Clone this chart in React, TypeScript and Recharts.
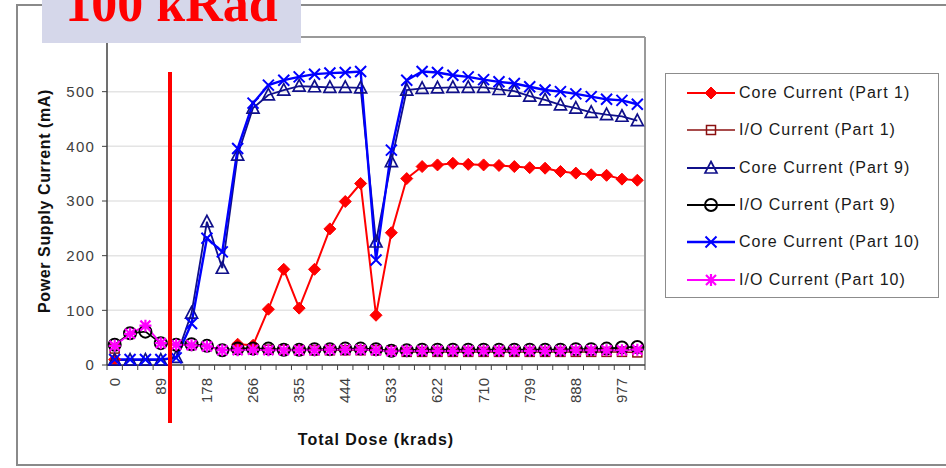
import { CartesianGrid, Label, Line, LineChart, XAxis, YAxis } from "recharts";

// dose per measurement step (krads), one category per measurement
const DOSES = [
  0, 30, 59, 89, 118, 148, 178, 207, 237, 266, 296, 326, 355, 385, 414, 444, 474, 503,
  533, 562, 592, 622, 651, 681, 710, 740, 770, 799, 829, 858, 888, 918, 947, 977, 1006,
];

const CORE_P1 = [
  10, null, null, null, null, null, null, null, 38, 36, 102, 175, 104, 175, 249, 299, 332, 91,
  242, 341, 363, 366, 369, 367, 366, 365, 363, 361, 360, 354, 351, 348, 347, 340, 338,
];
const IO_P1 = [
  30, null, null, null, null, null, null, null, 31, 30, 28, 28, 27, 27, 27, 27, 27, 27,
  26, 24, 24, 24, 24, 24, 24, 24, 24, 24, 24, 24, 24, 24, 24, 24, 23,
];
const CORE_P9 = [
  9, 9, 9, 9, 14, 95, 262, 177, 384, 470, 494, 503, 510, 509, 508, 508, 507, 225,
  372, 503, 506, 507, 508, 508, 508, 504, 501, 492, 485, 476, 470, 462, 458, 455, 447,
];
const IO_P9 = [
  37, 58, 61, 40, 37, 38, 35, 27, 30, 30, 30, 28, 28, 29, 29, 30, 30, 29,
  26, 27, 28, 28, 28, 28, 28, 28, 28, 28, 28, 28, 29, 29, 30, 32, 33,
];
const CORE_P10 = [
  10, 10, 10, 10, 13, 76, 232, 207, 396, 479, 512, 521, 527, 532, 534, 535, 537, 192,
  393, 521, 537, 535, 530, 527, 522, 518, 515, 509, 503, 500, 496, 491, 486, 484, 477,
];
const IO_P10 = [
  35, 57, 72, 40, 37, 36, 34, 27, 27, 28, 27, 27, 27, 27, 28, 28, 28, 27,
  25, 26, 26, 26, 26, 26, 26, 26, 26, 26, 26, 26, 27, 27, 27, 27, 28,
];

const Y_TICKS = [0, 100, 200, 300, 400, 500, 600];

type Kind = "diamond" | "square" | "triangle" | "circle" | "x" | "star";

const SERIES: { key: string; name: string; color: string; kind: Kind; width: number; values: (number | null)[] }[] = [
  { key: "coreP1", name: "Core Current (Part 1)", color: "#ff0000", kind: "diamond", width: 2, values: CORE_P1 },
  { key: "ioP1", name: "I/O Current (Part 1)", color: "#8b1010", kind: "square", width: 1.5, values: IO_P1 },
  { key: "coreP9", name: "Core Current (Part 9)", color: "#10108a", kind: "triangle", width: 1.8, values: CORE_P9 },
  { key: "ioP9", name: "I/O Current (Part 9)", color: "#000000", kind: "circle", width: 1.8, values: IO_P9 },
  { key: "coreP10", name: "Core Current (Part 10)", color: "#0000ff", kind: "x", width: 2.4, values: CORE_P10 },
  { key: "ioP10", name: "I/O Current (Part 10)", color: "#ff00ff", kind: "star", width: 1.8, values: IO_P10 },
];

const data = DOSES.map((d, i) => {
  const row: Record<string, number | string | null> = { dose: String(d) };
  for (const s of SERIES) row[s.key] = s.values[i];
  return row;
});

// plot box in page pixels
const PLOT_LEFT = 107;
const PLOT_RIGHT = 645;
const STEP = (PLOT_RIGHT - PLOT_LEFT) / DOSES.length;
const FONT = "'Liberation Sans', Arial, sans-serif";

function Marker({ kind, cx, cy, color }: { kind: Kind; cx: number; cy: number; color: string }) {
  switch (kind) {
    case "diamond":
      return (
        <polygon
          points={`${cx},${cy - 6} ${cx + 6},${cy} ${cx},${cy + 6} ${cx - 6},${cy}`}
          fill={color}
          stroke={color}
        />
      );
    case "square":
      return <rect x={cx - 4.5} y={cy - 4.5} width={9} height={9} fill="none" stroke={color} strokeWidth={1.5} />;
    case "triangle":
      return (
        <polygon
          points={`${cx},${cy - 6.5} ${cx + 6},${cy + 5} ${cx - 6},${cy + 5}`}
          fill="none"
          stroke={color}
          strokeWidth={1.7}
        />
      );
    case "circle":
      return <circle cx={cx} cy={cy} r={6} fill="none" stroke={color} strokeWidth={2} />;
    case "x":
      return (
        <path
          d={`M${cx - 5.5},${cy - 5.5}L${cx + 5.5},${cy + 5.5}M${cx - 5.5},${cy + 5.5}L${cx + 5.5},${cy - 5.5}`}
          stroke={color}
          strokeWidth={2}
          fill="none"
        />
      );
    default:
      return (
        <path
          d={`M${cx - 5},${cy - 5}L${cx + 5},${cy + 5}M${cx - 5},${cy + 5}L${cx + 5},${cy - 5}M${cx},${cy - 6}L${cx},${cy + 6}M${cx - 6},${cy}L${cx + 6},${cy}`}
          stroke={color}
          strokeWidth={2.2}
          fill="none"
        />
      );
  }
}

const dotFor = (kind: Kind, color: string) => (props: any) => {
  const { cx, cy, index, value } = props;
  if (cx == null || cy == null || value == null || Number.isNaN(cy)) return <g key={`e-${index}`} />;
  return (
    <g key={`d-${index}`}>
      <Marker kind={kind} cx={cx} cy={cy} color={color} />
    </g>
  );
};

function DoseTick(props: any) {
  const { x, y, index, payload } = props;
  const axisY = y - 7;
  const bx = x - STEP / 2;
  return (
    <g>
      <line x1={bx} y1={axisY} x2={bx} y2={axisY + 5} stroke="#404040" />
      {index === DOSES.length - 1 && (
        <line x1={x + STEP / 2} y1={axisY} x2={x + STEP / 2} y2={axisY + 5} stroke="#404040" />
      )}
      {index % 3 === 0 && (
        <text
          x={x}
          y={y + 6}
          dy={5}
          transform={`rotate(-90 ${x} ${y + 6})`}
          textAnchor="end"
          fill="#404040"
          fontSize={15}
          fontFamily={FONT}
        >
          {payload.value}
        </text>
      )}
    </g>
  );
}

function LegendBox() {
  return (
    <div
      style={{
        position: "absolute",
        left: 665,
        top: 73,
        width: 274,
        height: 225,
        border: "1.5px solid #8c8c8c",
        boxSizing: "border-box",
        background: "#fff",
        paddingTop: 0.5,
      }}
    >
      {SERIES.map((s) => (
        <div key={s.key} style={{ display: "flex", alignItems: "center", height: 37.3 }}>
          <svg width={48} height={16} style={{ marginLeft: 21, flex: "none" }}>
            <line x1={0} y1={8} x2={48} y2={8} stroke={s.color} strokeWidth={s.width} />
            <Marker kind={s.kind} cx={24} cy={8} color={s.color} />
          </svg>
          <span
            style={{
              marginLeft: 4,
              fontFamily: FONT,
              fontSize: 16,
              letterSpacing: 1,
              color: "#1a1a1a",
              whiteSpace: "nowrap",
            }}
          >
            {s.name}
          </span>
        </div>
      ))}
    </div>
  );
}

export default function App() {
  return (
    <div
      style={{
        position: "absolute",
        left: 0,
        top: 0,
        width: 946,
        height: 468,
        overflow: "hidden",
        background: "#fff",
      }}
    >
      {/* outer frame */}
      <div
        style={{
          position: "absolute",
          left: 16,
          top: 4,
          width: 960,
          height: 462,
          border: "2px solid #8a8a8a",
          boxSizing: "border-box",
        }}
      />
      <div style={{ position: "absolute", left: 0, top: 0 }}>
        <LineChart width={946} height={468} data={data} margin={{ top: 36, right: 300, bottom: 18, left: 30 }}>
          <CartesianGrid vertical={false} stroke="#e4e4e4" strokeWidth={1.5} />
          <XAxis
            xAxisId="top"
            orientation="top"
            dataKey="dose"
            height={1}
            tick={false}
            tickLine={false}
            axisLine={{ stroke: "#9a9a9a", strokeWidth: 2 }}
          />
          <YAxis
            yAxisId="right"
            orientation="right"
            width={1}
            domain={[0, 600]}
            tick={false}
            tickLine={false}
            axisLine={{ stroke: "#9a9a9a", strokeWidth: 2 }}
          />
          <XAxis
            dataKey="dose"
            interval={0}
            height={85}
            padding={{ left: STEP / 2, right: STEP / 2 }}
            axisLine={{ stroke: "#404040", strokeWidth: 1.5 }}
            tickLine={false}
            tickSize={5}
            tickMargin={2}
            tick={<DoseTick />}
          >
            <Label
              value="Total Dose (krads)"
              position="insideBottom"
              offset={5}
              fill="#111"
              fontSize={16}
              fontWeight="bold"
              fontFamily={FONT}
              letterSpacing={1}
            />
          </XAxis>
          <YAxis
            domain={[0, 600]}
            ticks={Y_TICKS}
            interval={0}
            width={77}
            tickSize={5}
            tickMargin={7}
            axisLine={{ stroke: "#404040", strokeWidth: 1.5 }}
            tickLine={{ stroke: "#404040" }}
            tick={{ fill: "#404040", fontSize: 15, fontFamily: FONT, letterSpacing: 1.2 }}
          >
            <Label
              value="Power Supply Current (mA)"
              angle={-90}
              position="insideLeft"
              offset={14}
              style={{ textAnchor: "middle" }}
              fill="#111"
              fontSize={16}
              fontWeight="bold"
              fontFamily={FONT}
              letterSpacing={0.6}
            />
          </YAxis>
          {SERIES.map((s) => (
            <Line
              key={s.key}
              dataKey={s.key}
              name={s.name}
              type="linear"
              stroke={s.color}
              strokeWidth={s.width}
              dot={dotFor(s.kind, s.color)}
              activeDot={false}
              connectNulls={false}
              isAnimationActive={false}
            />
          ))}
        </LineChart>
      </div>
      {/* 100 kRad marker line */}
      <div style={{ position: "absolute", left: 168, top: 72, width: 4, height: 351, background: "#ff0000" }} />
      {/* title tab */}
      <svg style={{ position: "absolute", left: 42, top: 0 }} width={259} height={43}>
        <rect x={0} y={0} width={259} height={43} fill="#d5d7ea" />
        <text
          x={129.5}
          y={21}
          textAnchor="middle"
          fill="#ff0000"
          fontFamily="'Liberation Serif', 'Times New Roman', serif"
          fontWeight="bold"
          fontSize={52}
        >
          100 kRad
        </text>
      </svg>
      <LegendBox />
    </div>
  );
}
